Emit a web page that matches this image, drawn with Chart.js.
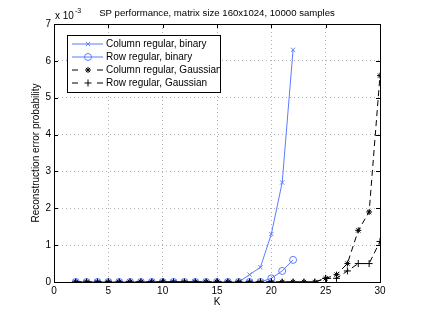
<!DOCTYPE html>
<html>
<head>
<meta charset="utf-8">
<script src="https://cdn.jsdelivr.net/npm/chart.js@4.4.1/dist/chart.umd.min.js"></script>
<style>
  html, body { margin: 0; padding: 0; background: #fff; }
  #wrap { width: 421px; height: 318px; }
</style>
</head>
<body>
<div id="wrap"><canvas id="c" width="421" height="318"></canvas></div>
<script>
// values are in units of 1e-3 (axis shows "x 10^-3")
const TITLE = "SP performance, matrix size 160x1024, 10000 samples";
const K_BIN   = [2,3,4,5,6,7,8,9,10,11,12,13,14,15,16,17,18,19,20,21,22];
const K_GAUSS = [2,3,4,5,6,7,8,9,10,11,12,13,14,15,16,17,18,19,20,21,22,23,24,25,26,27,28,29,30];

const colBinary = [0,0,0,0,0,0,0,0,0,0,0,0,0,0,0,0,0.2,0.4,1.3,2.7,6.3];
const rowBinary = [0,0,0,0,0,0,0,0,0,0,0,0,0,0,0,0,0,0,0.1,0.3,0.6];
const colGauss  = [0,0,0,0,0,0,0,0,0,0,0,0,0,0,0,0,0,0,0,0,0,0,0,0.1,0.2,0.5,1.4,1.9,5.6];
const rowGauss  = [0,0,0,0,0,0,0,0,0,0,0,0,0,0,0,0,0,0,0,0,0,0,0,0.1,0.1,0.3,0.5,0.5,1.1];

const X_TICKS = [0,5,10,15,20,25,30];
const Y_TICKS = [0,1,2,3,4,5,6,7];

const LABELS = ["Column regular, binary", "Row regular, binary", "Column regular, Gaussian", "Row regular, Gaussian"];

const BLUE = "#5b7cff";
const BLACK = "#000";
const FONT = "Liberation Sans, Arial, Helvetica, sans-serif";

function pts(xs, ys){ return xs.map((x, i) => ({ x, y: ys[i] })); }

const series = [
  { label: LABELS[0], data: pts(K_BIN, colBinary), color: BLUE,  style: "crossRot", dash: [],     r: 3,   order: 4 },
  { label: LABELS[1], data: pts(K_BIN, rowBinary), color: BLUE,  style: "circle",   dash: [],     r: 3.5, order: 3 },
  { label: LABELS[2], data: pts(K_GAUSS, colGauss), color: BLACK, style: "star",     dash: [6,4],  r: 3,   order: 2 },
  { label: LABELS[3], data: pts(K_GAUSS, rowGauss), color: BLACK, style: "cross",    dash: [6,4],  r: 3.5, order: 1 },
];

// frame, inside ticks, x10^-3 note, title and legend box (matlab look)
const matlabDeco = {
  id: "matlabDeco",
  beforeDatasetsDraw(chart){
    const { ctx, chartArea: a } = chart;
    ctx.save();
    ctx.strokeStyle = "#000";
    ctx.lineWidth = 1;
    ctx.beginPath();
    const xs = chart.scales.x, ys = chart.scales.y;
    X_TICKS.forEach(t => {
      const px = Math.round(xs.getPixelForValue(t)) + 0.5;
      ctx.moveTo(px, a.bottom); ctx.lineTo(px, a.bottom - 4);
      ctx.moveTo(px, a.top); ctx.lineTo(px, a.top + 4);
    });
    Y_TICKS.forEach(t => {
      const py = Math.round(ys.getPixelForValue(t)) + 0.5;
      ctx.moveTo(a.left, py); ctx.lineTo(a.left + 4, py);
      ctx.moveTo(a.right, py); ctx.lineTo(a.right - 4, py);
    });
    ctx.stroke();
    ctx.strokeRect(Math.round(a.left) + 0.5, Math.round(a.top) + 0.5, Math.round(a.right - a.left), Math.round(a.bottom - a.top));
    ctx.restore();
  },
  afterDraw(chart){
    const { ctx, chartArea: a } = chart;
    ctx.save();
    ctx.fillStyle = "#000";
    ctx.font = "9.6px " + FONT;
    ctx.textAlign = "center";
    ctx.textBaseline = "middle";
    ctx.fillText(TITLE, (a.left + a.right) / 2, 13);

    ctx.textAlign = "left";
    ctx.font = "10px " + FONT;
    ctx.fillText("x 10", a.left + 1, 16);
    ctx.font = "7px " + FONT;
    ctx.fillText("-3", a.left + 21, 11);

    // legend
    const bx = 67.5, by = 35.5, bw = 153, bh = 57;
    ctx.fillStyle = "#fff";
    ctx.fillRect(bx, by, bw, bh);
    ctx.strokeStyle = "#000";
    ctx.lineWidth = 1;
    ctx.strokeRect(bx, by, bw, bh);
    series.forEach((s, i) => {
      const y = 44 + i * 13;
      ctx.strokeStyle = s.color;
      ctx.lineWidth = 1;
      ctx.beginPath();
      if (s.dash.length) {
        ctx.moveTo(72, y); ctx.lineTo(78, y);
        ctx.moveTo(97, y); ctx.lineTo(103, y);
      } else {
        ctx.moveTo(72, y); ctx.lineTo(103, y);
      }
      ctx.stroke();
      ctx.fillStyle = "rgba(0,0,0,0)";
      ctx.strokeStyle = s.color;
      Chart.helpers.drawPoint(ctx, { pointStyle: s.style, radius: s.r, borderWidth: 1 }, 88, y);
      ctx.fillStyle = "#000";
      ctx.font = "10px " + FONT;
      ctx.textAlign = "left";
      ctx.fillText(s.label, 106, y);
    });
    ctx.restore();
  }
};

new Chart(document.getElementById("c"), {
  type: "line",
  data: {
    datasets: series.map(s => ({
      label: s.label,
      data: s.data,
      borderColor: s.color,
      backgroundColor: "transparent",
      pointBorderColor: s.color,
      pointBackgroundColor: "transparent",
      pointStyle: s.style,
      pointRadius: s.r,
      pointBorderWidth: 1,
      borderWidth: 1,
      borderDash: s.dash,
      tension: 0,
      order: s.order,
    }))
  },
  options: {
    responsive: false,
    animation: false,
    devicePixelRatio: 1,
    layout: { padding: { left: 30, right: 41, top: 24, bottom: 10 } },
    plugins: { legend: { display: false }, title: { display: false }, tooltip: { enabled: false } },
    scales: {
      x: {
        type: "linear", min: 0, max: 30,
        afterBuildTicks: (sc) => { sc.ticks = X_TICKS.map(v => ({ value: v })); },
        afterFit: (sc) => { sc.height = 26; },
        border: { display: false, dash: [1, 3] },
        grid: { color: "#b0b0b0", drawTicks: false },
        ticks: { color: "#000", font: { family: FONT, size: 10 }, padding: 3, maxRotation: 0 },
        title: { display: true, text: "K", color: "#000", font: { family: FONT, size: 10 }, padding: 0 }
      },
      y: {
        type: "linear", min: 0, max: 7,
        afterBuildTicks: (sc) => { sc.ticks = Y_TICKS.map(v => ({ value: v })); },
        afterFit: (sc) => { sc.width = 24; },
        border: { display: false, dash: [1, 3] },
        grid: { color: "#b0b0b0", drawTicks: false },
        ticks: { color: "#000", font: { family: FONT, size: 10 }, padding: 3 },
        title: { display: true, text: "Reconstruction error probability", color: "#000", font: { family: FONT, size: 10 }, padding: 0 }
      }
    }
  },
  plugins: [matlabDeco]
});
</script>
</body>
</html>
